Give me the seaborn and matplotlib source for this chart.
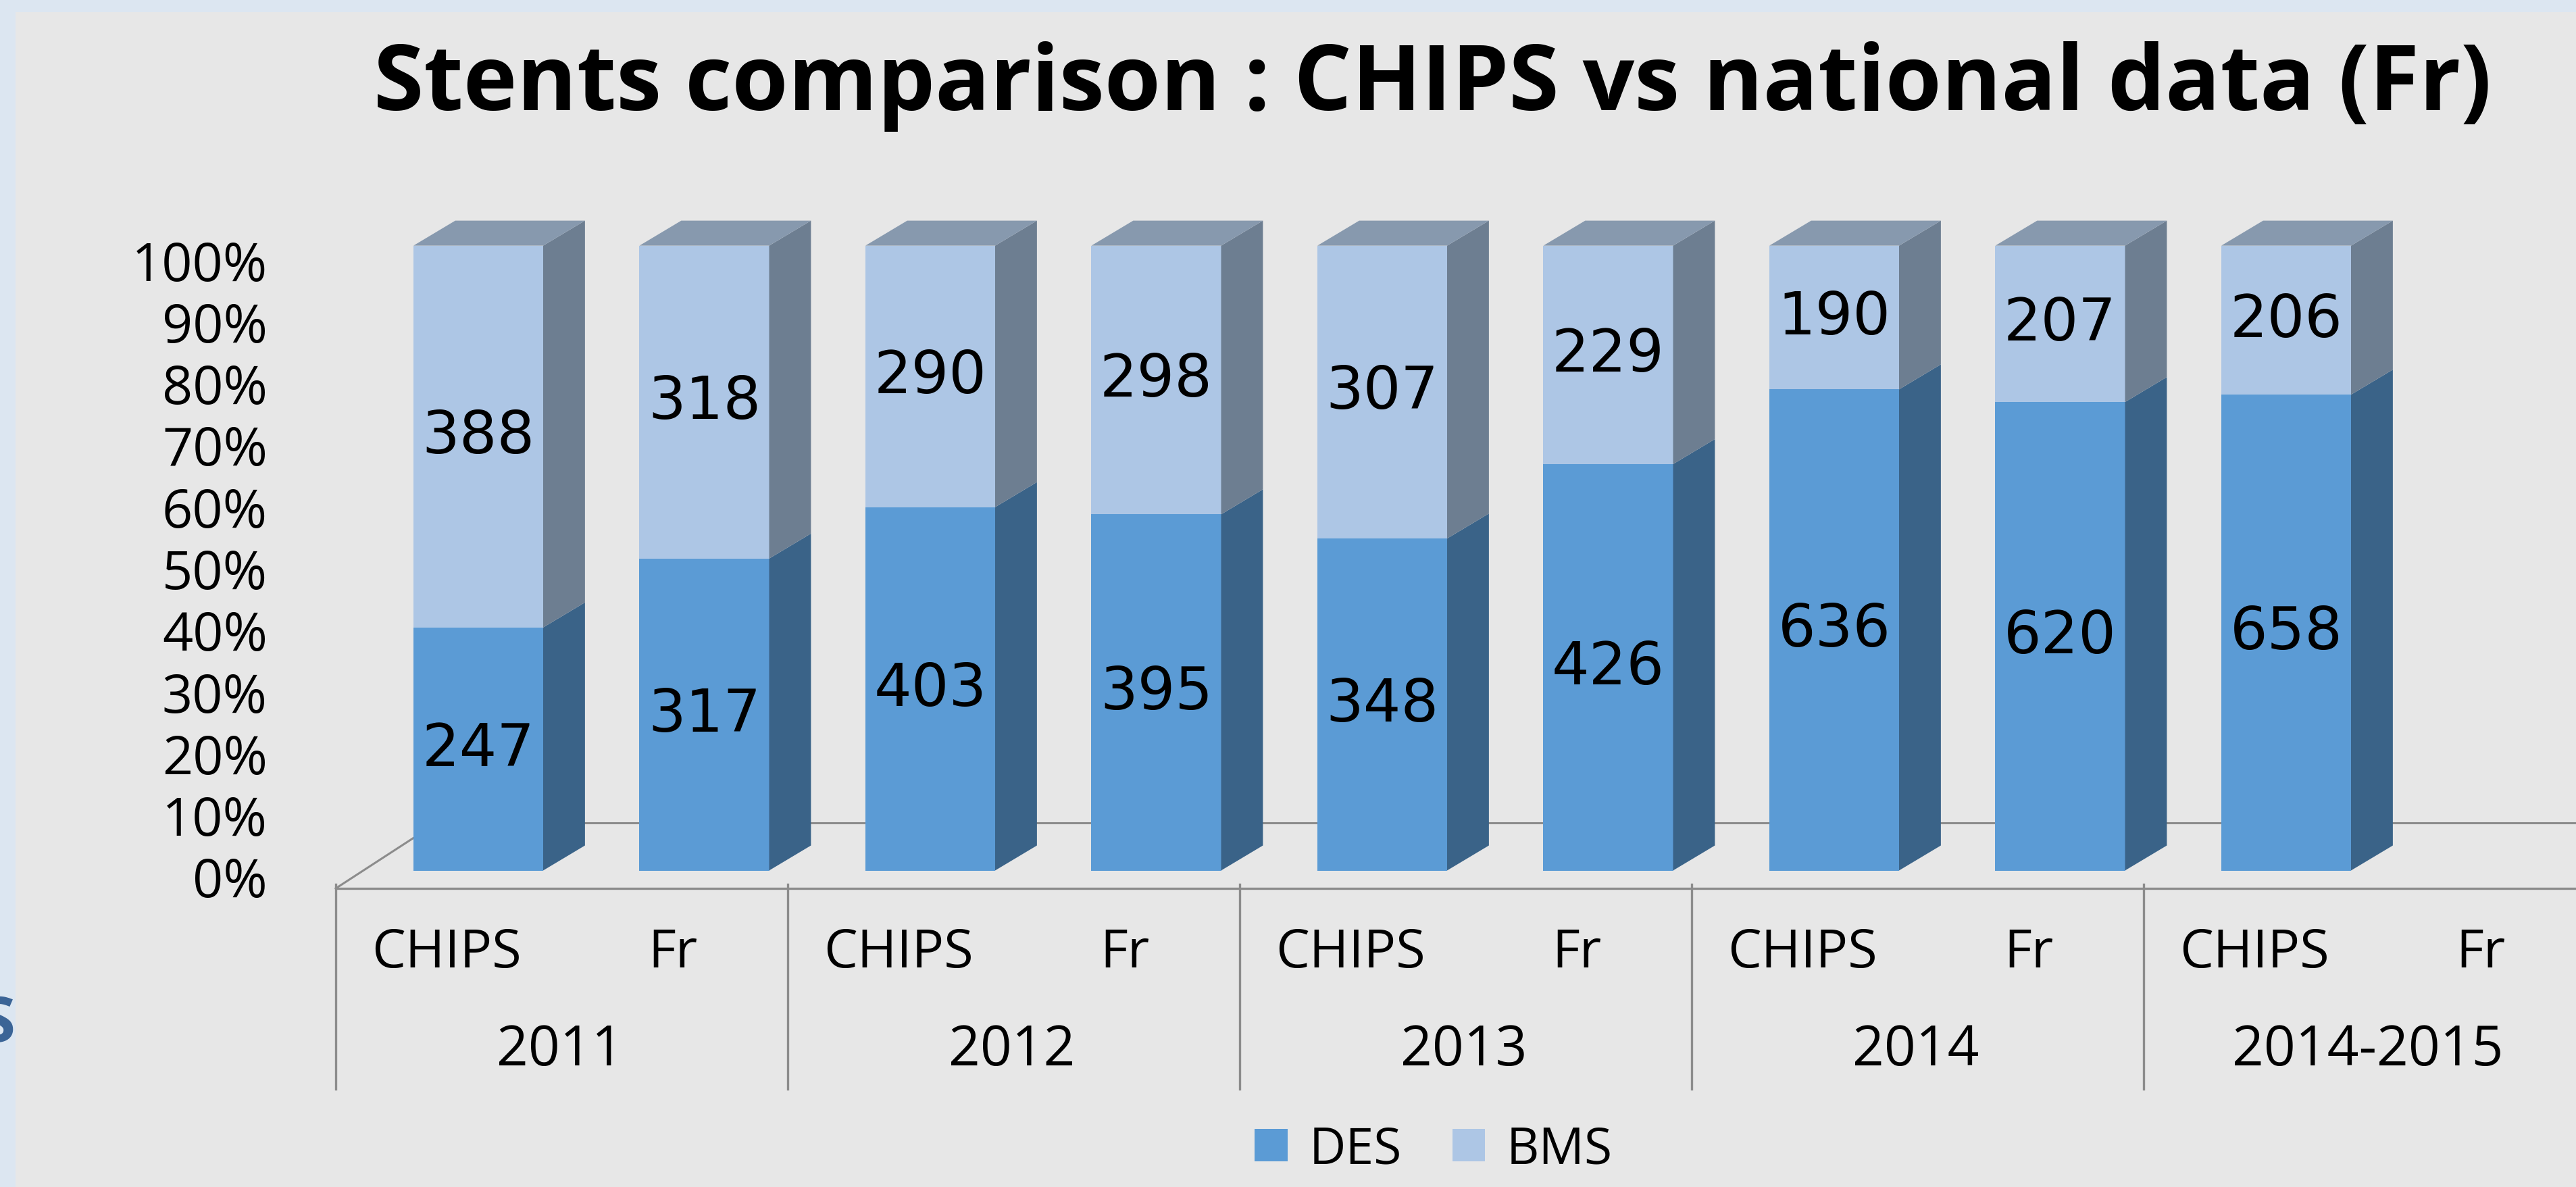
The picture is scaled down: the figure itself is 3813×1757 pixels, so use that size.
import matplotlib
matplotlib.use("Agg")
import matplotlib.pyplot as plt
import numpy as np
import pandas as pd
import seaborn as sns
from matplotlib.patches import Polygon, Rectangle, Patch

# data
groups = ["2011", "2012", "2013", "2014", "2014-2015"]
sources = ["CHIPS", "Fr"]
des = [247, 317, 403, 395, 348, 426, 636, 620, 658]
bms = [388, 318, 290, 298, 307, 229, 190, 207, 206]
y_ticks = list(range(0, 101, 10))

df = pd.DataFrame({"pos": np.arange(len(des)), "des": des, "bms": bms})
df["total_pct"] = 100.0
df["des_pct"] = df["des"] / (df["des"] + df["bms"]) * 100

# colours
DES_FRONT, DES_SIDE = "#5b9bd5", "#3a6388"
BMS_FRONT, BMS_SIDE = "#adc6e5", "#6d7e91"
TOP = "#8799ae"
GRID = "#8c8c8c"
PANEL = "#e7e7e7"
BORDER = "#dce6f1"

W, H = 3813, 1758
fig = plt.figure(figsize=(W / 100, H / 100), dpi=100)
fig.patch.set_facecolor(BORDER)
fig.patches.append(Rectangle((23 / W, 0), 1, 1 - 19 / H, transform=fig.transFigure,
                             facecolor=PANEL, edgecolor="none", zorder=-10))
# partly hidden letter at the left border of the slide
fig.text(23 / W, 1 - 1518 / H, "S", ha="right", va="center", fontsize=68,
         fontweight="bold", color="#3b6496", family="Open Sans")

ax = fig.add_axes([0, 0, 1, 1])
ax.set_axis_off()

# front faces through seaborn
sns.barplot(data=df, x="pos", y="total_pct", native_scale=True, width=0.574,
            color=BMS_FRONT, saturation=1, errorbar=None, edgecolor="none",
            ax=ax, zorder=3)
sns.barplot(data=df, x="pos", y="des_pct", native_scale=True, width=0.574,
            color=DES_FRONT, saturation=1, errorbar=None, edgecolor="none",
            ax=ax, zorder=3)

# pixel -> data mapping of the reference
ax.set_xlim(-708 / 334.5, (W - 708) / 334.5)
ax.set_ylim((1289.5 - H) / 9.249, 1289.5 / 9.249)

dx, dy = 0.185, 4.0
bars = ax.patches[:len(des)]
for bar, dp in zip(bars, df["des_pct"]):
    x0 = bar.get_x()
    x1 = x0 + bar.get_width()
    top = bar.get_height()
    # side faces
    for ya, yb, c in [(0, dp, DES_SIDE), (dp, top, BMS_SIDE)]:
        ax.add_patch(Polygon([(x1, ya), (x1 + dx, ya + dy), (x1 + dx, yb + dy), (x1, yb)],
                             closed=True, facecolor=c, edgecolor="none", zorder=3))
    # top face
    ax.add_patch(Polygon([(x0, top), (x0 + dx, top + dy), (x1 + dx, top + dy), (x1, top)],
                         closed=True, facecolor=TOP, edgecolor="none", zorder=3))

# value labels
for i, row in df.iterrows():
    dp = row["des_pct"]
    ax.text(row["pos"], dp / 2, str(int(row["des"])), ha="center", va="center",
            fontsize=63, family="DejaVu Sans", color="black", zorder=5)
    ax.text(row["pos"], (dp + 100) / 2, str(int(row["bms"])), ha="center", va="center",
            fontsize=63, family="DejaVu Sans", color="black", zorder=5)

# floor and category frame
xr = ax.get_xlim()[1]
y_front, y_back = -2.87, 7.6
ax.plot([-0.631, xr], [y_front, y_front], color=GRID, lw=2.4, zorder=1, solid_capstyle="butt")
ax.plot([-0.185, xr], [y_back, y_back], color=GRID, lw=2.2, zorder=1, solid_capstyle="butt")
ax.plot([-0.631, -0.185], [y_front, y_back], color=GRID, lw=2.2, zorder=1)
for k in range(len(groups) + 1):
    ax.plot([2 * k - 0.631] * 2, [-2.2, -35.0], color=GRID, lw=2.4, zorder=1)

for k, g in enumerate(groups):
    for j, s in enumerate(sources):
        ax.text(2 * k + j - 0.14, -13.2, s, ha="center", va="center",
                fontsize=57, family="Open Sans", color="black")
    ax.text(2 * k + 0.36, -28.8, g, ha="center", va="center",
            fontsize=59, family="Open Sans", color="black")

# y tick labels
for v in y_ticks:
    ax.text(-0.933, v * 0.987 - 2.0, f"{v}%", ha="right", va="center",
            fontsize=57, family="Open Sans", color="black")

fig.text(2120 / W, 1 - 128 / H, "Stents comparison : CHIPS vs national data (Fr)",
         ha="center", va="center", fontsize=97, fontweight="bold",
         family="Open Sans", color="black")

handles = [Patch(facecolor=DES_FRONT, label="DES"), Patch(facecolor=BMS_FRONT, label="BMS")]
fig.legend(handles=handles, loc="center", bbox_to_anchor=(2122 / W, 1 - 1703 / H),
           ncol=2, frameon=False, handlelength=0.65, handleheight=0.6,
           handletextpad=0.42, columnspacing=1.0, borderpad=0,
           prop={"family": "Open Sans", "size": 54})

fig.savefig("out.png", dpi=100, facecolor=fig.get_facecolor())
